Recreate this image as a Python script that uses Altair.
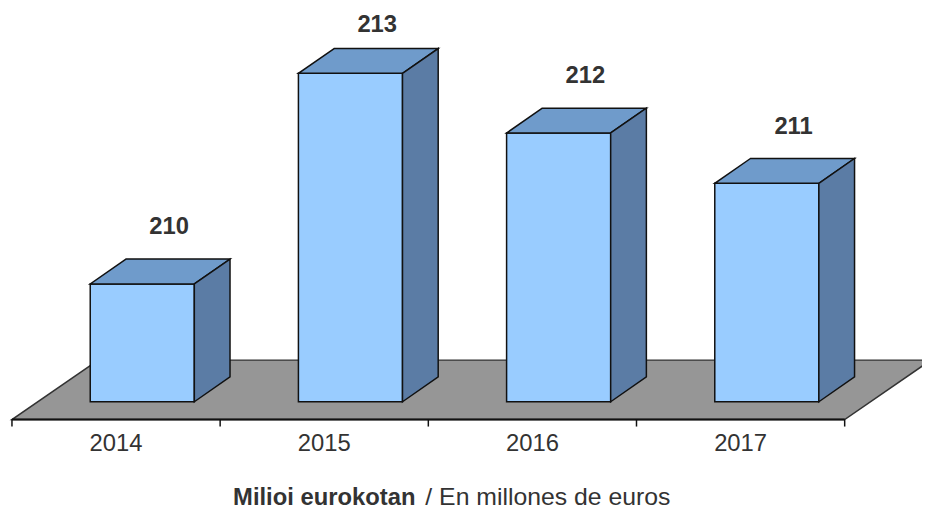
import altair as alt
import pandas as pd

# ---- data ----
years = ["2014", "2015", "2016", "2017"]
values = [210.10, 213.03, 212.20, 211.50]
value_labels = ["210", "213", "212", "211"]
title_bold = "Milioi  eurokotan"
title_normal = "/ En millones  de euros"

# ---- layout (pixels / styling) ----
W, H = 922, 504
CAT_PX = 210          # px per category
S = 72.5              # px per value unit
BASE = 208.46         # hidden baseline value of bars
X0_PX = 4
BASE_PX = 395
xmin = -X0_PX / CAT_PX
xmax = (W - X0_PX) / CAT_PX
ymin = BASE - (H - BASE_PX) / S
ymax = ymin + H / S

BAR_W = 0.5
BAR_OFF = 0.376
BAR_DX = 36 / CAT_PX
BAR_DY = 25 / S
FLOOR_FRONT = BASE - 18 / S
FLOOR_DX = 87 / CAT_PX
FLOOR_DY = 60 / S
LABEL_DX = 27 / CAT_PX
LABEL_DY = 57 / S
LABEL_MAX = ymin + (H - 15) / S

FONT = "Liberation Sans"
FRONT = "#99CCFF"
TOP = "#6F9BCB"
SIDE = "#5B7CA5"
FLOOR = "#969696"
EDGE = "#111111"
TXT = "#333333"

n = len(years)
front_rows, top_rows, side_rows, lab_rows = [], [], [], []
for i, (yr, v, lb) in enumerate(zip(years, values, value_labels)):
    left = i + BAR_OFF
    right = left + BAR_W
    front_rows.append(dict(year=yr, x=left, x2=right, y=BASE, y2=v))
    top_rows.append(dict(year=yr, y=v, xa=left, xb=right))
    top_rows.append(dict(year=yr, y=v + BAR_DY, xa=left + BAR_DX, xb=right + BAR_DX))
    side_rows.append(dict(year=yr, x=right, ya=BASE, yb=v))
    side_rows.append(dict(year=yr, x=right + BAR_DX, ya=BASE + BAR_DY, yb=v + BAR_DY))
    lab_rows.append(dict(year=yr, x=left + BAR_W / 2 + LABEL_DX,
                         y=min(v + LABEL_DY, LABEL_MAX), t=lb))

front_df = pd.DataFrame(front_rows)
top_df = pd.DataFrame(top_rows)
side_df = pd.DataFrame(side_rows)
lab_df = pd.DataFrame(lab_rows)
floor_df = pd.DataFrame([
    dict(y=FLOOR_FRONT, xa=0, xb=n),
    dict(y=FLOOR_FRONT + FLOOR_DY, xa=FLOOR_DX, xb=n + FLOOR_DX),
])
tick_df = pd.DataFrame(dict(x=list(range(n + 1)), y=[FLOOR_FRONT] * (n + 1)))
axis_df = pd.DataFrame([dict(x=0, x2=n, y=FLOOR_FRONT)])
cat_df = pd.DataFrame(dict(x=[i + 0.5 for i in range(n)], t=years))

xs = alt.Scale(domain=[xmin, xmax], nice=False, zero=False)
ys = alt.Scale(domain=[ymin, ymax], nice=False, zero=False)

floor = alt.Chart(floor_df).mark_area(
    orient="horizontal", fill=FLOOR, stroke="#333333", strokeWidth=1.5
).encode(y=alt.Y("y:Q", scale=ys, axis=None),
         x=alt.X("xa:Q", scale=xs, axis=None), x2="xb:Q")

axis_line = alt.Chart(axis_df).mark_rule(color=EDGE, strokeWidth=2).encode(
    x=alt.X("x:Q", scale=xs, axis=None), x2="x2:Q",
    y=alt.Y("y:Q", scale=ys, axis=None))

ticks = alt.Chart(tick_df).mark_rule(color=EDGE, strokeWidth=1.5).encode(
    x=alt.X("x:Q", scale=xs, axis=None),
    y=alt.Y("y:Q", scale=ys, axis=None), y2=alt.value(420))

front = alt.Chart(front_df).mark_rect(
    fill=FRONT, stroke=EDGE, strokeWidth=1.5
).encode(x=alt.X("x:Q", scale=xs, axis=None), x2="x2:Q",
         y=alt.Y("y:Q", scale=ys, axis=None), y2="y2:Q")

top = alt.Chart(top_df).mark_area(
    orient="horizontal", fill=TOP, stroke=EDGE, strokeWidth=1.5
).encode(y=alt.Y("y:Q", scale=ys, axis=None),
         x=alt.X("xa:Q", scale=xs, axis=None), x2="xb:Q", detail="year:N")

side = alt.Chart(side_df).mark_area(
    orient="vertical", fill=SIDE, stroke=EDGE, strokeWidth=1.5
).encode(x=alt.X("x:Q", scale=xs, axis=None),
         y=alt.Y("ya:Q", scale=ys, axis=None), y2="yb:Q", detail="year:N")

vlabels = alt.Chart(lab_df).mark_text(
    font=FONT, fontSize=24, fontWeight="bold", color=TXT, baseline="middle"
).encode(x=alt.X("x:Q", scale=xs, axis=None),
         y=alt.Y("y:Q", scale=ys, axis=None), text="t:N")

cats = alt.Chart(cat_df).mark_text(
    font=FONT, fontSize=24, color=TXT, baseline="middle"
).encode(x=alt.X("x:Q", scale=xs, axis=None), y=alt.value(437.5), text="t:N")

t1 = alt.Chart(pd.DataFrame(dict(t=[title_bold]))).mark_text(
    font=FONT, fontSize=24, fontWeight="bold", color=TXT,
    align="right", baseline="alphabetic"
).encode(x=alt.value(411), y=alt.value(499), text="t:N")

t2 = alt.Chart(pd.DataFrame(dict(t=[title_normal]))).mark_text(
    font=FONT, fontSize=25, color=TXT,
    align="left", baseline="alphabetic"
).encode(x=alt.value(421), y=alt.value(499), text="t:N")

chart = alt.layer(
    floor, axis_line, ticks, front, top, side, vlabels, cats, t1, t2
).properties(
    width=W, height=H,
    autosize=alt.AutoSizeParams(type="none"),
    padding=0,
).configure(background="white").configure_view(stroke=None)

chart.save("out.html", embed_options={"renderer": "svg", "actions": False})
